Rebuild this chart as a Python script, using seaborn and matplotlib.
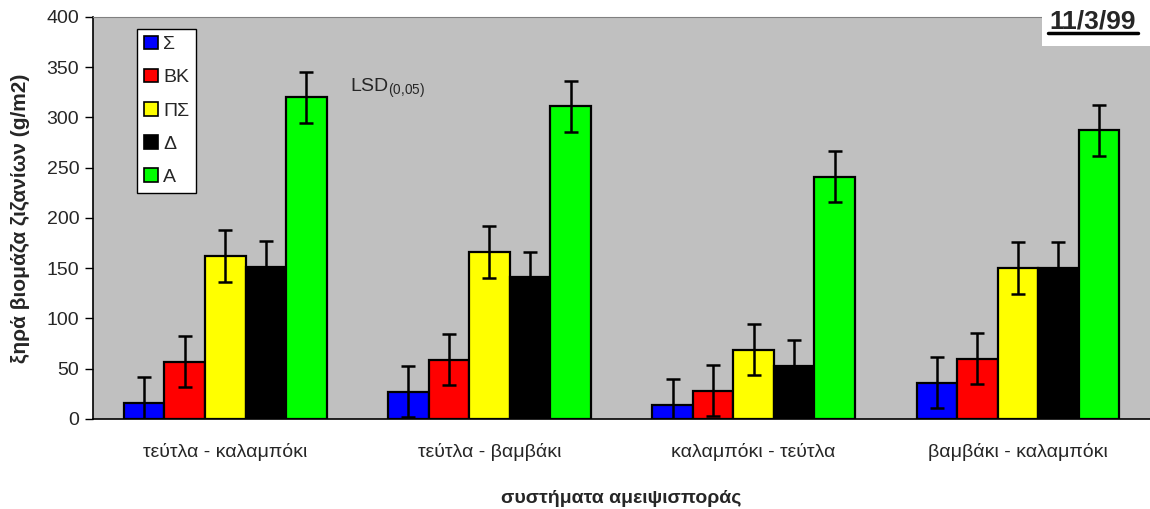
import pandas as pd
import matplotlib
matplotlib.use("Agg")
import matplotlib.pyplot as plt
import seaborn as sns
from matplotlib.ticker import FixedLocator
from matplotlib.patches import Rectangle

# -----------------------------
# Data
# -----------------------------
systems = ["τεύτλα - καλαμπόκι", "τεύτλα - βαμβάκι", "καλαμπόκι - τεύτλα", "βαμβάκι - καλαμπόκι"]
treatments = ["Σ", "ΒΚ", "ΠΣ", "Δ", "Α"]
sigma = [16, 27, 14, 36]
bk = [57, 59, 28, 60]
ps = [162, 166, 69, 150]
delta = [151, 141, 53, 150]
alpha = [320, 311, 241, 287]
lsd_half = 25.5
colors = ["#0000FF", "#FF0000", "#FFFF00", "#000000", "#00FF00"]

rows = []
for t, vals in zip(treatments, [sigma, bk, ps, delta, alpha]):
    for s, v in zip(systems, vals):
        rows.append({"system": s, "treatment": t, "biomass": v})
df = pd.DataFrame(rows)

sns.set_style("white")
plt.rcParams["font.family"] = ["Liberation Sans", "DejaVu Sans"]

fig = plt.figure(figsize=(11.5, 5.09), dpi=100)
ax = fig.add_axes([0.081, 0.177, 0.919, 0.79])
ax.set_facecolor("#C0C0C0")

sns.barplot(data=df, x="system", y="biomass", hue="treatment", order=systems,
            hue_order=treatments, palette=colors, width=0.767, errorbar=None,
            edgecolor="black", linewidth=1.6, saturation=1, ax=ax)

# LSD error bars at each bar centre
for p in ax.patches:
    h = p.get_height()
    if h == 0 and p.get_width() == 0:
        continue
    ax.errorbar(p.get_x() + p.get_width() / 2, h, yerr=lsd_half, fmt="none",
                ecolor="black", elinewidth=1.8, capsize=5, capthick=1.8, zorder=5)

ax.set_ylim(0, 400)
ax.set_xlim(-0.5, 3.5)
ax.set_yticks(range(0, 401, 50))
ax.xaxis.set_minor_locator(FixedLocator([0.5, 1.5, 2.5]))
ax.tick_params(axis="x", which="major", length=0, pad=17, labelsize=14)
ax.tick_params(axis="x", which="minor", length=7, width=1, color="black", direction="inout")
ax.tick_params(axis="y", length=6, width=1, color="black", left=True, pad=4, labelsize=14)

for side in ["left", "bottom"]:
    ax.spines[side].set_color("black")
    ax.spines[side].set_linewidth(1.2)
ax.spines["top"].set_color("#808080")
ax.spines["right"].set_visible(False)

ax.set_xlabel("συστήματα αμειψισποράς", fontsize=14, fontweight="bold", labelpad=21)
ax.set_ylabel("ξηρά βιομάζα ζιζανίων (g/m2)", fontsize=15, fontweight="bold", labelpad=12)

leg = ax.legend(loc="upper left", bbox_to_anchor=(0.0416, 0.970), fontsize=14,
                frameon=True, fancybox=False, edgecolor="black", facecolor="white",
                framealpha=1, handlelength=0.7, handleheight=0.7, handletextpad=0.3,
                labelspacing=0.8, borderpad=0.35, borderaxespad=0)
leg.get_frame().set_linewidth(1.0)
for h in leg.legend_handles:
    h.set_edgecolor("black")
    h.set_linewidth(1.2)

ax.text(0.243, 0.823, r"LSD$_{\mathregular{(0{,}05)}}$", transform=ax.transAxes,
        fontsize=14, va="center", ha="left")

# date box at top right
fig.add_artist(Rectangle((0.906, 0.9096), 0.094, 0.0904, transform=fig.transFigure,
                         facecolor="white", edgecolor="none", zorder=8))
fig.text(0.9504, 0.9587, "11/3/99", fontsize=19, fontweight="bold", ha="center",
         va="center", zorder=9)
fig.add_artist(plt.Line2D([0.911, 0.9896], [0.935, 0.935], color="black",
                          linewidth=2.5, zorder=10))

fig.savefig("out.png", dpi=100)
